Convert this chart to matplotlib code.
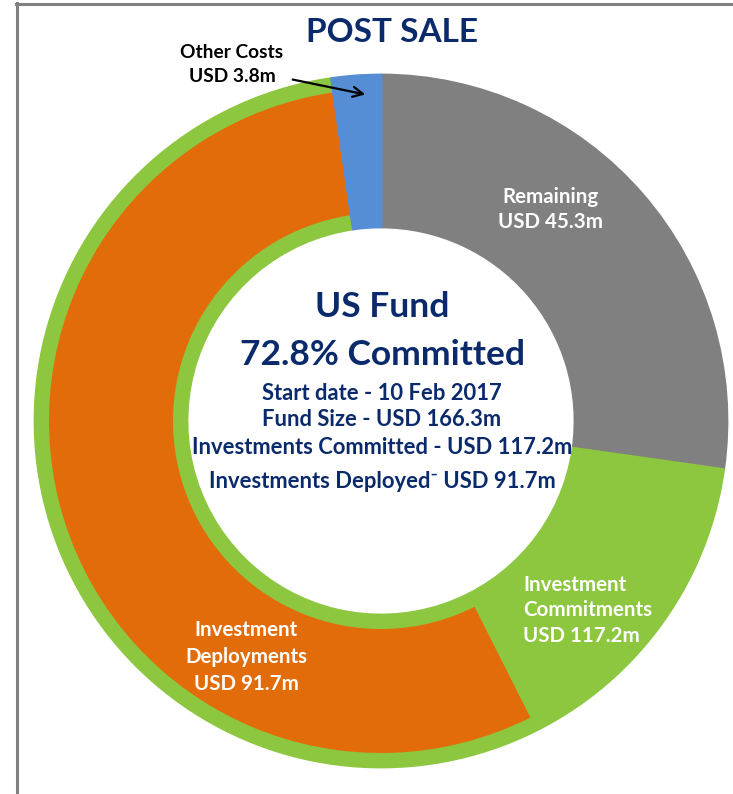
import matplotlib
matplotlib.use("Agg")
import matplotlib.pyplot as plt
from matplotlib.lines import Line2D

# ---- data ----
fund_size = 166.3
outer_labels = ["Remaining", "Investment Commitments", "Other Costs"]
outer_values = [45.3, 117.2, 3.8]
outer_colors = ["#808080", "#8DC63F", "#558ED5"]
deployed_value = 91.7
deployed_color = "#E36C0A"
committed_pct = "72.8%"

title = "POST SALE"
center_big = ["US Fund", f"{committed_pct} Committed"]
center_small = ["Start date - 10 Feb 2017",
                "Fund Size - USD 166.3m",
                "Investments Committed - USD 117.2m",
                "Investments Deployed\u207b USD 91.7m"]

W, H = 733, 794
fig = plt.figure(figsize=(W / 100, H / 100), dpi=100)
ax = fig.add_axes([0, 0, 1, 1])

def Y(y):
    return H - y

plt.rcParams['font.family'] = ['Lato', 'DejaVu Sans']
navy = "#0B2A6B"

cx, cy = 381, Y(421)
R, r_in = 346, 194

ax.pie(outer_values, colors=outer_colors, radius=R, center=(cx, cy),
       startangle=90, counterclock=False, frame=True,
       wedgeprops=dict(width=R - r_in, linewidth=2, joinstyle="round"))
for w, c in zip(ax.patches, outer_colors):
    w.set_edgecolor(c)

# deployed overlay inside commitments wedge
gap_before = outer_values[0] + outer_values[1] - deployed_value
inner_vals = [gap_before, deployed_value, outer_values[2]]
ax.pie(inner_vals, colors=["none", deployed_color, "none"], radius=332,
       center=(cx, cy), startangle=90, counterclock=False, frame=True,
       wedgeprops=dict(width=332 - 208, linewidth=0))
ax.patches[2].set_zorder(5)

ax.set_xlim(0, W)
ax.set_ylim(0, H)
ax.set_aspect("equal")
ax.axis("off")

# frame lines
ax.add_line(Line2D([16, W], [Y(3.5), Y(3.5)], color="#808080", lw=2.2))
ax.add_line(Line2D([16.5, 16.5], [Y(3), 0], color="#808080", lw=2.2))

ax.text(392, Y(33), title, ha="center", va="center", fontsize=24,
        fontweight="bold", color=navy)

# other costs annotation
ax.text(232, Y(52), "Other Costs", ha="center", va="center", fontsize=13.8,
        fontweight="bold", color="black")
ax.text(232, Y(77), "USD 3.8m", ha="center", va="center", fontsize=13.8,
        fontweight="bold", color="black")
ax.annotate("", xy=(368, Y(95)), xytext=(290, Y(79)),
            arrowprops=dict(arrowstyle="->", color="black", lw=1.6,
                            mutation_scale=18), zorder=10)

# segment labels
def lines(x, ys, txts, ha="center"):
    for y, t in zip(ys, txts):
        ax.text(x, Y(y), t, ha=ha, va="center", fontsize=14.8,
                fontweight="bold", color="white", zorder=10)

lines(550, [197, 222], ["Remaining", f"USD {outer_values[0]}m"])
lines(523, [585, 610, 636], ["Investment", "Commitments",
                             f"USD {outer_values[1]}m"], ha="left")
lines(246, [630, 657, 684], ["Investment", "Deployments",
                             f"USD {deployed_value}m"])

# centre text
ax.text(382, Y(307), center_big[0], ha="center", va="center", fontsize=25.5,
        fontweight="bold", color=navy)
ax.text(382, Y(355), center_big[1], ha="center", va="center", fontsize=25.5,
        fontweight="bold", color=navy)
for y, t in zip([393, 419, 448, 481], center_small):
    ax.text(382, Y(y), t, ha="center", va="center", fontsize=15.8,
            fontweight="bold", color=navy)

fig.savefig("out.png", dpi=100)
